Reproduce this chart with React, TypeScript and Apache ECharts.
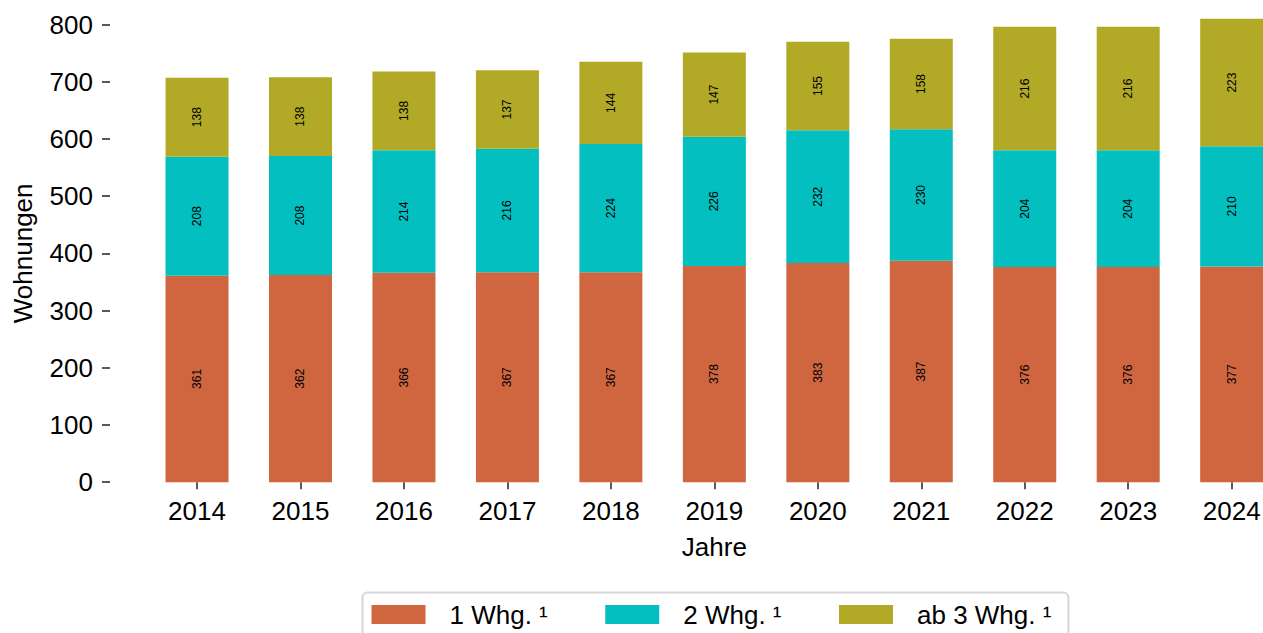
import React, { useEffect, useRef } from "react";
import * as echarts from "echarts";

const years = ["2014", "2015", "2016", "2017", "2018", "2019", "2020", "2021", "2022", "2023", "2024"];
const oneUnit = [361, 362, 366, 367, 367, 378, 383, 387, 376, 376, 377];
const twoUnits = [208, 208, 214, 216, 224, 226, 232, 230, 204, 204, 210];
const threePlus = [138, 138, 138, 137, 144, 147, 155, 158, 216, 216, 223];
const seriesNames = ["1 Whg. ¹", "2 Whg. ¹", "ab 3 Whg. ¹"];
const colors = ["#CF6640", "#04BFBF", "#B2AA27"];

const FONT = "'Liberation Sans', Arial, Helvetica, sans-serif";
const CHART_W = 1300;

export default function App() {
  const ref = useRef<HTMLDivElement>(null);
  useEffect(() => {
    if (!ref.current) return;
    const chart = echarts.init(ref.current, null, { renderer: "svg" });
    const mk = (name: string, data: number[], color: string) => ({
      name,
      type: "bar",
      stack: "total",
      data,
      barWidth: 63,
      clip: false,
      itemStyle: { color },
      label: {
        show: true,
        position: "inside",
        rotate: 90,
        fontSize: 12,
        fontFamily: FONT,
        color: "#000",
      },
    });
    chart.setOption({
      animation: false,
      backgroundColor: "#fff",
      textStyle: { fontFamily: FONT },
      grid: { left: 145.3, right: CHART_W - 1283.4, top: 24.5, bottom: 150.8, containLabel: false },
      legend: {
        left: 362.5,
        top: 592.5,
        orient: "horizontal",
        itemWidth: 54,
        itemHeight: 19,
        itemGap: 57.5,
        padding: [9, 17, 12, 9],
        borderColor: "#d6d6d6",
        borderWidth: 2,
        borderRadius: 5,
        backgroundColor: "#fff",
        icon: "rect",
        textStyle: { fontSize: 26, color: "#000", fontFamily: FONT, padding: [0, 0, 0, 19] },
        data: seriesNames,
      },
      xAxis: {
        type: "category",
        data: years,
        offset: 3,
        axisLine: { show: false },
        axisTick: { show: true, length: 7, alignWithLabel: true, lineStyle: { color: "#222", width: 1.5 } },
        axisLabel: { fontSize: 26, color: "#000", margin: 13, fontFamily: FONT },
        name: "Jahre",
        nameLocation: "middle",
        nameGap: 49,
        nameTextStyle: { fontSize: 26, color: "#000", fontFamily: FONT },
      },
      yAxis: {
        type: "value",
        min: 0,
        max: 800,
        interval: 100,
        offset: 35.3,
        axisLine: { show: false },
        axisTick: { show: true, length: 8, lineStyle: { color: "#222", width: 1.5 } },
        axisLabel: { fontSize: 26, color: "#000", margin: 17, fontFamily: FONT },
        splitLine: { show: false },
        name: "Wohnungen",
        nameLocation: "middle",
        nameGap: 74,
        nameTextStyle: { fontSize: 26, color: "#000", fontFamily: FONT },
      },
      series: [
        mk(seriesNames[0], oneUnit, colors[0]),
        mk(seriesNames[1], twoUnits, colors[1]),
        mk(seriesNames[2], threePlus, colors[2]),
      ],
    });
    return () => chart.dispose();
  }, []);
  return (
    <div style={{ position: "absolute", left: 0, top: 0, width: 1263, height: 633, overflow: "hidden" }}>
      <div ref={ref} style={{ width: CHART_W, height: 633 }} />
    </div>
  );
}
